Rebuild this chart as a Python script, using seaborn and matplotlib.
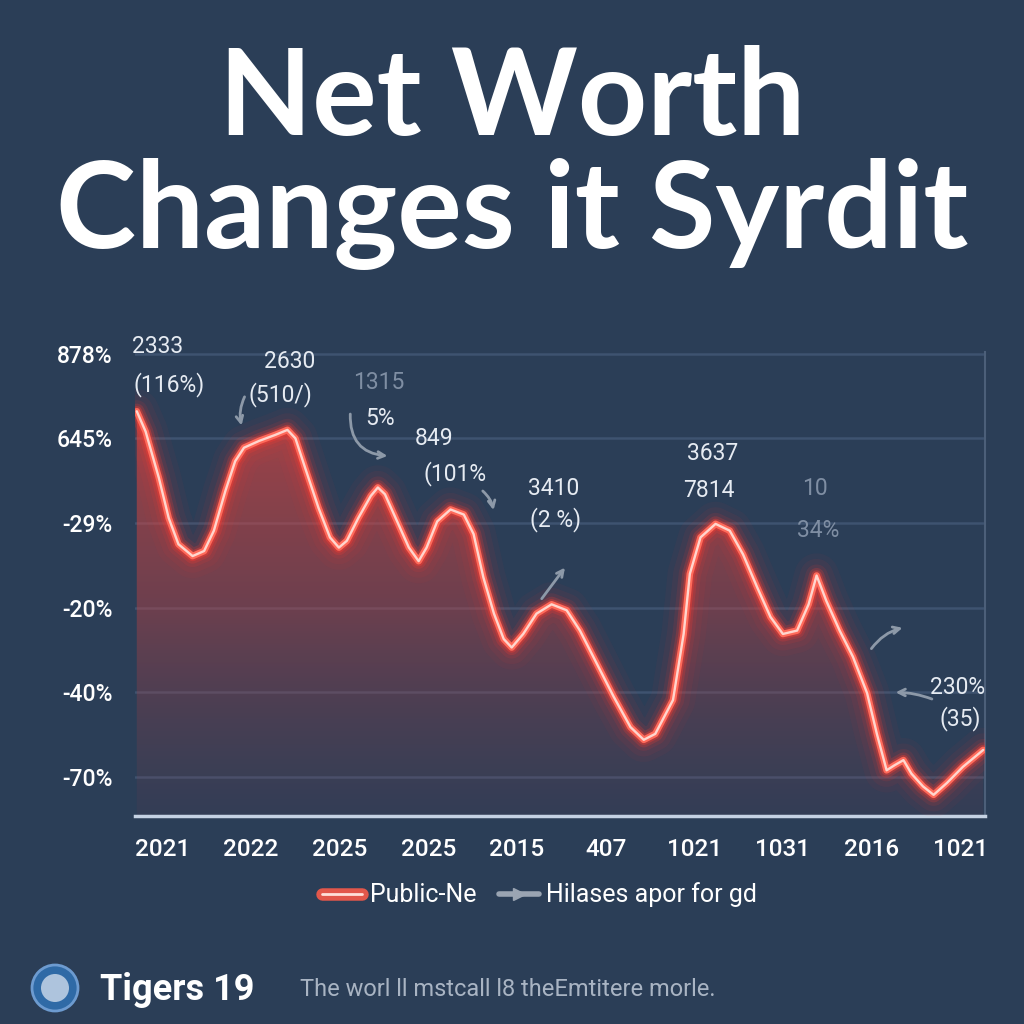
import numpy as np
import matplotlib
matplotlib.use("Agg")
import matplotlib.pyplot as plt
import matplotlib.patheffects as pe
from matplotlib.colors import LinearSegmentedColormap
from matplotlib.lines import Line2D
from matplotlib.patches import Circle
import seaborn as sns

# values; x and y are in "tick slot" units
x_labels = ['2021', '2022', '2025', '2025', '2015', '407', '1021', '1031', '2016', '1021']
y_labels = ['-70%', '-40%', '-20%', '-29%', '645%', '878%']

xs = [-0.29, -0.19, -0.04, 0.07, 0.18, 0.34, 0.47, 0.58, 0.71, 0.82,
      0.92, 1.09, 1.27, 1.41, 1.50, 1.61, 1.76, 1.89, 1.99, 2.08,
      2.21, 2.35, 2.43, 2.51, 2.63, 2.78, 2.89, 2.98, 3.10, 3.25,
      3.40, 3.51, 3.62, 3.74, 3.85, 3.94, 4.07, 4.22, 4.39, 4.56,
      4.71, 4.90, 5.09, 5.28, 5.43, 5.56, 5.76, 5.88, 5.95,
      6.07, 6.24, 6.40, 6.55, 6.71, 6.86, 7.00, 7.16, 7.29, 7.38,
      7.49, 7.64, 7.79, 7.95, 8.06, 8.17, 8.26, 8.36, 8.45, 8.58,
      8.70, 8.85, 9.03, 9.26]
ys = [4.32, 4.08, 3.53, 3.06, 2.75, 2.61, 2.67, 2.91, 3.38, 3.73,
      3.89, 3.97, 4.04, 4.10, 4.00, 3.65, 3.18, 2.83, 2.71, 2.79,
      3.06, 3.32, 3.42, 3.34, 3.06, 2.71, 2.55, 2.71, 3.02, 3.16,
      3.10, 2.87, 2.36, 1.93, 1.63, 1.53, 1.69, 1.93, 2.04, 1.97,
      1.73, 1.34, 0.95, 0.59, 0.44, 0.51, 0.91, 1.69, 2.40,
      2.83, 2.99, 2.91, 2.63, 2.24, 1.89, 1.69, 1.73, 2.04, 2.38,
      2.08, 1.73, 1.42, 0.99, 0.51, 0.08, 0.14, 0.20, 0.04, -0.11,
      -0.21, -0.07, 0.12, 0.32]

legend_labels = ['Public-Ne', 'Hilases apor for gd']

bg = '#2b3e57'
sns.set_theme(style='dark')
plt.rcParams['font.family'] = ['Roboto', 'DejaVu Sans']

fig = plt.figure(figsize=(10.24, 10.24), dpi=100, facecolor=bg)
ax = fig.add_axes([135 / 1024, 1 - 816 / 1024, 850 / 1024, 464 / 1024])
ax.set_facecolor(bg)

ymin, ymax = -0.46, 5.02
ax.set_xlim(-0.31, 9.28)
ax.set_ylim(ymin, ymax)

# gradient area under the curve
fill = ax.fill_between(xs, ys, ymin, color='none', lw=0)
cmap = LinearSegmentedColormap.from_list(
    'glowfill', [(0.50, 0.24, 0.30, 0.10), (0.78, 0.26, 0.26, 0.42),
                 (0.95, 0.28, 0.24, 0.62)])
grad = np.linspace(0, 1, 256).reshape(-1, 1)
img = ax.imshow(grad, extent=[-0.31, 9.28, ymin, 4.4], origin='lower',
                aspect='auto', cmap=cmap, zorder=1)
img.set_clip_path(fill.get_paths()[0], ax.transData)

# glow layers
for lw, a in [(32, 0.04), (24, 0.06), (16, 0.10), (11, 0.20), (7.5, 0.35)]:
    ax.plot(xs, ys, color='#ff3b30', lw=lw, alpha=a, zorder=3,
            solid_joinstyle='round', solid_capstyle='round')
sns.lineplot(x=xs, y=ys, ax=ax, color='#ff6a5a', lw=4.8, sort=False,
             estimator=None, zorder=4)
ax.plot(xs, ys, color='#ffd6ce', lw=1.7, zorder=5, solid_joinstyle='round')

# axes styling
ax.set_xticks(range(len(x_labels)))
ax.set_xticklabels(x_labels)
ax.set_yticks(range(len(y_labels)))
ax.set_yticklabels(y_labels)
ax.tick_params(axis='x', length=0, pad=16, labelsize=17.5, labelcolor='white')
ax.tick_params(axis='y', length=0, pad=16, labelsize=16.5, labelcolor='white')
for lab in ax.get_xticklabels() + ax.get_yticklabels():
    lab.set_fontweight('medium')
ax.grid(axis='y', color='#3e5370', lw=1.8)
ax.grid(axis='x', visible=False)
for s in ['left', 'top']:
    ax.spines[s].set_visible(False)
ax.spines['bottom'].set_color('#c5d2e3')
ax.spines['bottom'].set_linewidth(2.5)
ax.spines['right'].set_color('#4c5f79')
ax.spines['right'].set_linewidth(1.5)

# annotations
tc = '#e6ebf2'
fc = '#7f8ea3'
notes = [
    ('2333', -0.05, 5.08, tc), ('(116%)', 0.07, 4.64, tc),
    ('2630', 1.44, 4.91, tc), ('(510/)', 1.33, 4.52, tc),
    ('1315', 2.44, 4.66, fc), ('5%', 2.46, 4.24, tc),
    ('849', 3.06, 4.00, tc), ('(101%', 3.30, 3.59, tc),
    ('3410', 4.41, 3.41, tc), ('(2 %)', 4.44, 3.04, tc),
    ('3637', 6.21, 3.82, tc), ('7814', 6.16, 3.38, tc),
    ('10', 7.36, 3.41, fc), ('34%', 7.40, 2.91, fc),
    ('230%', 8.97, 1.06, tc), ('(35)', 9.00, 0.69, tc),
]
for t, x, y, c in notes:
    ax.text(x, y, t, color=c, fontsize=16.5, ha='center', va='center',
            zorder=6, clip_on=False)

ac = '#8d99a8'
arrows = [
    ((2.12, 4.32), (2.57, 3.79), 'arc3,rad=0.5'),
    ((3.59, 3.40), (3.74, 3.12), 'arc3,rad=-0.2'),
    ((4.26, 2.08), (4.56, 2.50), 'arc3,rad=0.0'),
    ((0.94, 4.52), (0.90, 4.12), 'arc3,rad=0.2'),
    ((8.71, 0.91), (8.24, 1.00), 'arc3,rad=0.1'),
    ((7.98, 1.49), (8.38, 1.77), 'arc3,rad=-0.2'),
]
for (x0, y0), (x1, y1), cs in arrows:
    ax.annotate('', xy=(x1, y1), xytext=(x0, y0),
                arrowprops=dict(arrowstyle='->', color=ac, lw=2,
                                connectionstyle=cs), zorder=6)

# title
title_font = ['Lato', 'DejaVu Sans']
fig.text(0.5, 1 - 135 / 1024, 'Net Worth', ha='center', va='baseline',
         color='white', fontsize=87, fontweight='bold', family=title_font)
fig.text(0.5, 1 - 248 / 1024, 'Changes it Syrdit', ha='center', va='baseline',
         color='white', fontsize=87, fontweight='bold', family=title_font)

# legend
h1 = Line2D([], [], color='#ffe0da', lw=2,
            path_effects=[pe.Stroke(linewidth=9, foreground='#e2574b'), pe.Normal()])
h2 = Line2D([], [], color='#9aa4b2', lw=4, marker='>', markersize=8,
            markevery=[1])
fig.legend([h1, h2], legend_labels, loc='center', bbox_to_anchor=(0.527, 0.126),
           ncol=2, frameon=False, fontsize=18, labelcolor='white',
           handlelength=1.6, columnspacing=0.9, handletextpad=0.3)

# footer
fig.add_artist(Circle((55 / 1024, 1 - 988 / 1024), 23 / 1024,
                      transform=fig.transFigure, fc='#2f6aa6', ec='#6d9bd0', lw=2))
fig.add_artist(Circle((55 / 1024, 1 - 988 / 1024), 14 / 1024,
                      transform=fig.transFigure, fc='#cfdceb', ec='none', alpha=0.8))
fig.text(100 / 1024, 1 - 990 / 1024, 'Tigers 19', ha='left', va='center',
         color='white', fontsize=26, fontweight='bold')
fig.text(300 / 1024, 1 - 990 / 1024, 'The worl ll mstcall l8 theEmtitere morle.',
         ha='left', va='center', color='#a9b4c3', fontsize=17)

fig.savefig('out.png', dpi=100, facecolor=bg)
